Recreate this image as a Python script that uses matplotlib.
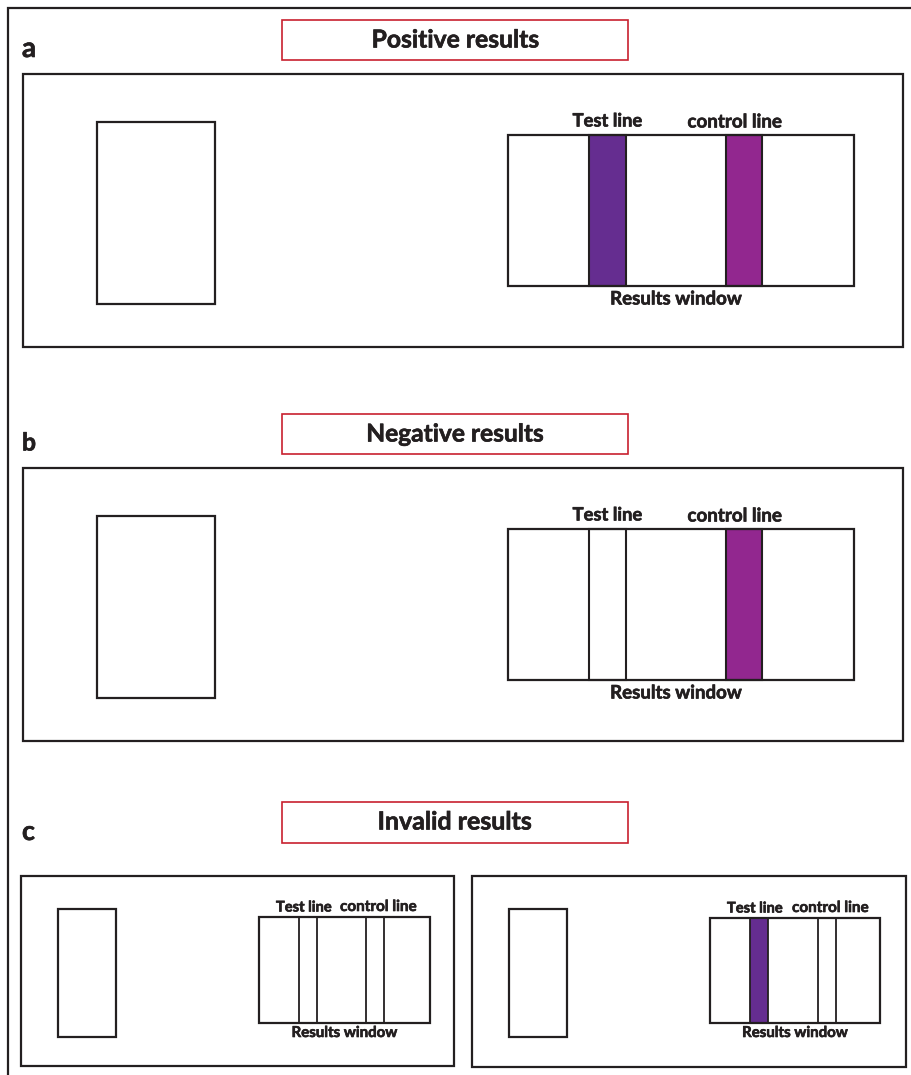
import matplotlib
matplotlib.use("Agg")
import matplotlib.pyplot as plt
from matplotlib.patches import Rectangle
import matplotlib.patheffects as pe

# ---- content ----
panel_letters = ["a", "b", "c"]
panel_titles = ["Positive results", "Negative results", "Invalid results"]
test_label = "Test line"
control_label = "control line"
window_label = "Results window"
# band fill state per cassette: (test filled, control filled)
cassette_bands = [(True, True), (False, True), (False, False), (True, False)]

INK = "#231F20"
RED = "#C8202F"
TEST_COLOR = "#652D90"
CTRL_COLOR = "#92278F"
FONT = ["Lato", "DejaVu Sans"]

W, H = 911, 1075
fig = plt.figure(figsize=(W / 100, H / 100), dpi=100)
ax = fig.add_axes([0, 0, 1, 1])
ax.set_xlim(0, W)
ax.set_ylim(H, 0)
ax.axis("off")
renderer = fig.canvas.get_renderer()
EFFECT = [pe.withStroke(linewidth=0.45, foreground=INK)]


def rect(x0, y0, x1, y1, lw=1.5, ec=INK, fc="none", z=2):
    ax.add_patch(Rectangle((x0, y0), x1 - x0, y1 - y0, lw=lw, ec=ec, fc=fc, zorder=z))


def txt(x, y, s, width_px, ha="center"):
    t = ax.text(x, y, s, ha=ha, va="center", fontsize=10, fontweight="bold",
                color=INK, family=FONT, zorder=5, path_effects=EFFECT)
    w = t.get_window_extent(renderer).width
    t.set_fontsize(10 * width_px / w)
    return t


# outer frame (top and left edges only visible)
ax.plot([8, 8, W + 5], [H + 5, 8, 8], color=INK, lw=1.6, solid_joinstyle="miter")


def cassette(box, strip, win, test_x, ctrl_x, bands, big):
    rect(*box, lw=1.6)
    rect(*strip, lw=1.6)
    wx0, wy0, wx1, wy1 = win
    rect(*win, lw=1.6, z=3)
    for (bx0, bx1), filled, col in [(test_x, bands[0], TEST_COLOR),
                                     (ctrl_x, bands[1], CTRL_COLOR)]:
        rect(bx0, wy0, bx1, wy1, lw=1.3 if not big else 1.5,
             fc=col if filled else "none", z=2)
    tc = (test_x[0] + test_x[1]) / 2
    cc = (ctrl_x[0] + ctrl_x[1]) / 2
    if big:
        txt(tc, wy0 - 14, test_label, 70)
        txt(cc - 9.5, wy0 - 13, control_label, 95)
        txt((wx0 + wx1) / 2 - 5, wy1 + 13, window_label, 132)
    else:
        txt(tc - 4, wy0 - 9.5, test_label, 56)
        txt(cc + 3.5, wy0 - 10, control_label, 77)
        txt((wx0 + wx1) / 2, wy1 + 10, window_label, 106)


# panels a and b
for i, yoff in enumerate([0, 394]):
    txt(22, 49 + yoff, panel_letters[i], 14, ha="left")
    rect(282, 20 + yoff, 628, 60 + yoff, lw=1.2, ec=RED)
    txt(455, 40 + yoff, panel_titles[i], 168 if i == 0 else 178)
    cassette((23, 74 + yoff, 903, 347 + yoff), (97, 122 + yoff, 215, 304 + yoff),
             (508, 135 + yoff, 854, 286 + yoff), (589, 626), (726, 762),
             cassette_bands[i], True)

# panel c
txt(22, 832, panel_letters[2], 13, ha="left")
rect(282, 802, 628, 843, lw=1.2, ec=RED)
txt(455, 822, panel_titles[2], 155)
cassette((21, 876, 454, 1066), (58, 909, 116, 1037), (259, 917, 430, 1023),
         (299, 317), (366, 384), cassette_bands[2], False)
cassette((472, 876, 906, 1067), (509, 909, 567, 1037), (710, 918, 880, 1023),
         (750, 768), (818, 836), cassette_bands[3], False)

fig.savefig("out.png", dpi=100)
